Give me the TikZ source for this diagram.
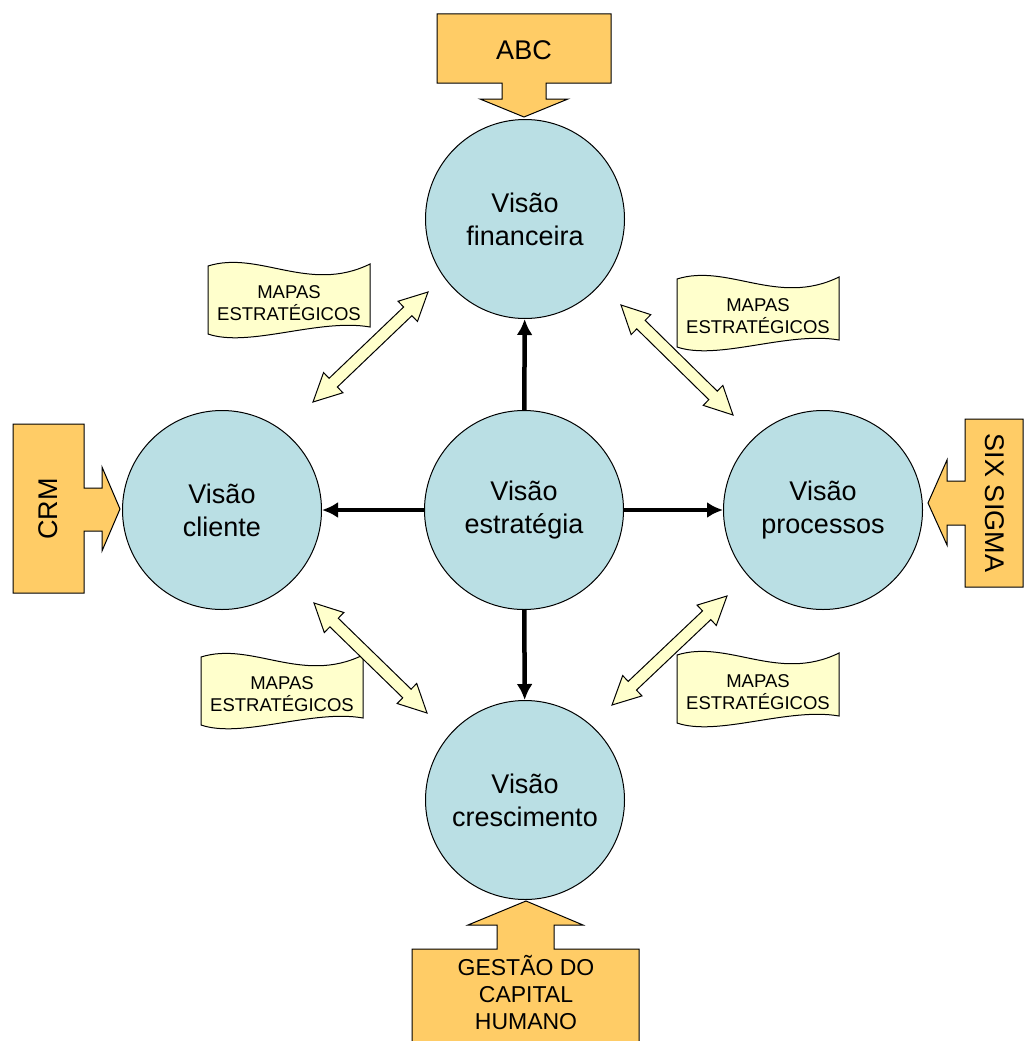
\documentclass[tikz,border=0pt]{standalone}
\usepackage{fontspec}
\setmainfont{Liberation Sans}
\usetikzlibrary{arrows.meta,calc}
\definecolor{circfill}{RGB}{186,223,228}
\definecolor{boxfill}{RGB}{255,204,102}
\definecolor{mapfill}{RGB}{255,255,204}
\tikzset{
  visao/.style={circle, draw, line width=1pt, fill=circfill, minimum size=199pt, inner sep=0pt, align=center,
    font=\fontsize{27}{33}\selectfont},
  ligacao/.style={line width=4.5pt, -{Latex[length=16pt,width=16pt]}},
  caixa/.style={draw, fill=boxfill, line width=1pt},
  rotulo/.style={align=center, font=\fontsize{27}{33}\selectfont},
  dblarr/.style={draw, fill=mapfill, line width=1pt},
  mapa/.pic={
    \draw[fill=mapfill, line width=1pt] (-81,-34) .. controls (-30,-50) and (20,-6) .. (81,-36)
      -- (81,27) .. controls (30,18) and (-40,48) .. (-81,34) -- cycle;
    \node[align=center, font=\fontsize{18.5}{22}\selectfont] (-txt) at (0,3) {MAPAS\\ESTRATÉGICOS};
  }
}
% double arrow between two named coordinates
\newcommand\dblarrow[2]{%
  \coordinate (ha) at ($(#1)!28pt!(#2)$);
  \coordinate (hb) at ($(#2)!28pt!(#1)$);
  \draw[dblarr] (#1) -- ($(ha)!14pt!90:(#2)$) -- ($(ha)!6pt!90:(#2)$)
    -- ($(hb)!6pt!-90:(#1)$) -- ($(hb)!14pt!-90:(#1)$) -- (#2)
    -- ($(hb)!14pt!90:(#1)$) -- ($(hb)!6pt!90:(#1)$)
    -- ($(ha)!6pt!-90:(#2)$) -- ($(ha)!14pt!-90:(#2)$) -- cycle;}
\begin{document}
\begin{tikzpicture}[x=1pt,y=-1pt]
	\useasboundingbox (0,0) rectangle (1024,1041);
	% circles
	\node[visao] (est) at (524,510) {Visão\\estratégia};
	\node[visao] (fin) at (525,219) {Visão\\financeira};
	\node[visao] (cli) at (222,510) {Visão\\cliente};
	\node[visao] (pro) at (823,510) {Visão\\processos};
	\node[visao] (cre) at (525,800) {Visão\\crescimento};
	\draw[ligacao] (est) -- (fin);
	\draw[ligacao] (est) -- (cli);
	\draw[ligacao] (est) -- (pro);
	\draw[ligacao] (est) -- (cre);
	% callouts
	\draw[caixa] (437,14) -- (611,14) -- (611,83) -- (546,83) -- (546,99) -- (568,99)
	-- (524,117) -- (480,99) -- (502,99) -- (502,83) -- (437,83) -- cycle;
	\node[rotulo] (abc) at (524,50) {ABC};
	\draw[caixa] (13,424) -- (84,424) -- (84,488) -- (102,488) -- (102,467) -- (120,509)
	-- (102,551) -- (102,531) -- (84,531) -- (84,593) -- (13,593) -- cycle;
	\node[rotulo, rotate=90] (crm) at (48,509) {CRM};
	\draw[caixa] (1023,419) -- (965,419) -- (965,481) -- (947,481) -- (947,460) -- (928,503)
	-- (947,545) -- (947,525) -- (965,525) -- (965,587) -- (1023,587) -- cycle;
	\node[rotulo, rotate=-90] (six) at (995,503) {SIX SIGMA};
	\draw[caixa] (412,1050) -- (412,949) -- (497,949) -- (497,925) -- (468,925) -- (526,901)
	-- (583,925) -- (554,925) -- (554,949) -- (639,949) -- (639,1050);
	\node[align=center, font=\fontsize{23}{27}\selectfont] (gch) at (526,993) {GESTÃO DO\\CAPITAL\\HUMANO};
	% mapas
	\pic (m1) at (289,300) {mapa};
	\pic (m2) at (758,313) {mapa};
	\pic (m3) at (282,691) {mapa};
	\pic (m4) at (758,689) {mapa};
	\coordinate (a1) at (313,402); \coordinate (b1) at (428,292);
	\coordinate (a2) at (621,305); \coordinate (b2) at (733,415);
	\coordinate (a3) at (314,603); \coordinate (b3) at (427,713);
	\coordinate (a4) at (612,705); \coordinate (b4) at (727,596);
	\dblarrow{a1}{b1}
	\dblarrow{a2}{b2}
	\dblarrow{a3}{b3}
	\dblarrow{a4}{b4}
\end{tikzpicture}
\end{document}
